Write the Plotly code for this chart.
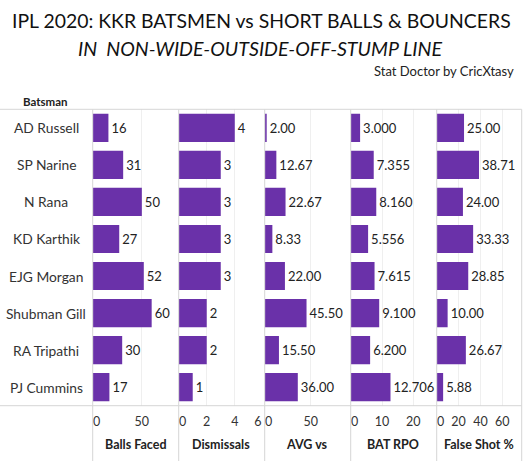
import plotly.graph_objects as go

# data
batsmen = ["AD Russell", "SP Narine", "N Rana", "KD Karthik", "EJG Morgan",
           "Shubman Gill", "RA Tripathi", "PJ Cummins"]
balls_faced = [16, 31, 50, 27, 52, 60, 30, 17]
dismissals = [4, 3, 3, 3, 3, 2, 2, 1]
avg_vs = [2.00, 12.67, 22.67, 8.33, 22.00, 45.50, 15.50, 36.00]
bat_rpo = [3.000, 7.355, 8.160, 5.556, 7.615, 9.100, 6.200, 12.706]
false_shot = [25.00, 38.71, 24.00, 33.33, 28.85, 10.00, 26.67, 5.88]

measures = ["Balls Faced", "Dismissals", "AVG vs", "BAT RPO", "False Shot %"]
tick_labels = [[0, 50], [0, 2, 4, 6], [0, 50], [0, 10, 20], [0, 20, 40, 60]]
axis_max = [87, 6.1, 93, 27.3, 78.2]
fmts = ["%{x:.0f}", "%{x:.0f}", "%{x:.2f}", "%{x:.3f}", "%{x:.2f}"]

W, H = 524, 461
PURPLE = "#6a31a9"
LINE = "#d6d6d6"
FONT = "Lato"


def px(x):
    return x / W


def py(y):
    return 1 - y / H


def label(x, y, text, size, anchor="center", color="#222222"):
    fig.add_annotation(x=px(x), y=py(y), xref="paper", yref="paper", text=text,
                       showarrow=False, xanchor=anchor, yanchor="middle",
                       font=dict(family=FONT, size=size, color=color))


top, bottom = 109.3, 405.7
lefts = [92.7, 178.7, 264.7, 350.7, 436.7]
pw = 85.5

tickfont = dict(family=FONT, size=12.5, color="#333333")

fig = go.Figure()
series = [balls_faced, dismissals, avg_vs, bat_rpo, false_shot]
extra = 6
for i, vals in enumerate(series):
    xa = "x" if i == 0 else "x%d" % (i + 1)
    fig.add_trace(go.Bar(
        x=vals, y=batsmen, orientation="h", xaxis=xa, yaxis="y",
        marker=dict(color=PURPLE, line=dict(width=0)),
        width=0.76, texttemplate=fmts[i], textposition="outside",
        textfont=dict(family=FONT, size=13, color="#222222"),
        cliponaxis=False, hoverinfo="skip", showlegend=False))

    ticks = tick_labels[i]
    inner = [t for t in ticks if t != 0 and t / axis_max[i] < 0.95]
    edge = [t for t in ticks if t != 0 and t / axis_max[i] >= 0.95]

    key = "xaxis" if i == 0 else "xaxis%d" % (i + 1)
    fig.layout[key] = dict(
        domain=[px(lefts[i]), px(lefts[i] + pw)], range=[0, axis_max[i]],
        anchor="y", tickvals=inner, showgrid=True, gridcolor="#efefef",
        zeroline=False, showline=False, ticks="", fixedrange=True,
        tickfont=tickfont, ticklabelstandoff=7)

    # labels sitting on a panel edge are nudged inwards, like the original,
    # via an overlaid axis carrying just those ticks
    for vals_e, shift in [([0], 4), (edge, -5)]:
        if not vals_e:
            continue
        fig.add_trace(go.Scatter(
            x=vals_e, y=[batsmen[0]] * len(vals_e), xaxis="x%d" % extra, yaxis="y",
            mode="markers", marker=dict(opacity=0), hoverinfo="skip",
            showlegend=False))
        fig.layout["xaxis%d" % extra] = dict(
            overlaying=xa, range=[0, axis_max[i]], anchor="y",
            tickvals=vals_e, showgrid=False, zeroline=False, showline=False,
            ticks="", fixedrange=True, tickfont=tickfont,
            ticklabelstandoff=7, ticklabelshift=shift)
        extra += 1

    label(lefts[i] + pw / 2, 444.5, "<b>%s</b>" % measures[i], 12.5)

fig.update_layout(yaxis=dict(
    domain=[py(bottom), py(top)], range=[7.5, -0.5], categoryorder="array",
    categoryarray=batsmen, showticklabels=False, showgrid=False, zeroline=False,
    ticks="", fixedrange=True))

for b in batsmen:
    fig.add_annotation(x=px(46), y=b, xref="paper", yref="y", text=b,
                       showarrow=False, xanchor="center", yanchor="middle",
                       font=dict(family=FONT, size=13.8, color="#333333"))

# frame lines
shapes = []
for x in lefts + [521.7]:
    shapes.append(dict(type="line", xref="paper", yref="paper", x0=px(x), x1=px(x),
                       y0=py(top), y1=0, line=dict(color=LINE, width=1)))
for y in [top, bottom]:
    shapes.append(dict(type="line", xref="paper", yref="paper", x0=0, x1=px(521.7),
                       y0=py(y), y1=py(y), line=dict(color=LINE, width=1)))

label(261, 21, "IPL 2020: KKR BATSMEN vs SHORT BALLS &amp; BOUNCERS", 19.4, color="#111111")
label(260, 48, "<i>IN\u00a0 NON-WIDE-OUTSIDE-OFF-STUMP LINE</i>", 19.6, color="#111111")
label(516, 71, "Stat Doctor by CricXtasy", 13, anchor="right")
label(21, 101, "<b>Batsman</b>", 11.5, anchor="left")

fig.update_layout(width=W, height=H, margin=dict(l=0, r=0, t=0, b=0),
                  paper_bgcolor="white", plot_bgcolor="white", shapes=shapes,
                  bargap=0.24)

fig.write_html("out.html", config={"displayModeBar": False},
               post_script="document.body.style.margin='0';")
